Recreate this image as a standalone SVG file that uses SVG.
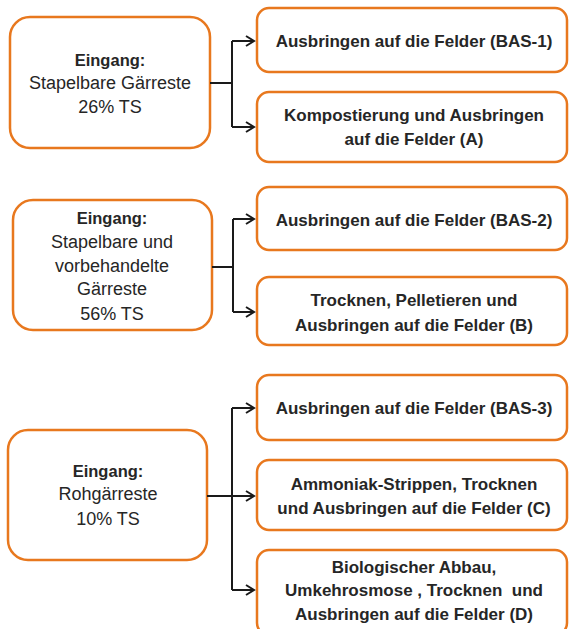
<svg xmlns="http://www.w3.org/2000/svg" width="569" height="629" viewBox="0 0 569 629">
  <defs>
    <style>
      .box { fill: #ffffff; stroke: #E8781E; stroke-width: 2.5; }
      .wire { fill: none; stroke: #1a1a1a; stroke-width: 2; }
      .t { font-family: "Liberation Sans", Arial, sans-serif; fill: #262626; text-anchor: middle; }
      .in { font-size: 18px; }
      .inb { font-size: 16.5px; font-weight: bold; }
      .out { font-size: 17px; font-weight: bold; }
    </style>
    <marker id="arrow" markerWidth="12" markerHeight="12" refX="10" refY="6" orient="auto" markerUnits="userSpaceOnUse">
      <path d="M2,1 L10,6 L2,11" fill="none" stroke="#1a1a1a" stroke-width="2"/>
    </marker>
  </defs>
  <rect width="569" height="629" fill="#ffffff"/>

  <!-- Inputs -->
  <g id="in1">
    <rect class="box" x="10" y="17" width="200" height="131" rx="20"/>
    <text class="t inb" x="110" y="66">Eingang:</text>
    <text class="t in" x="110" y="89">Stapelbare Gärreste</text>
    <text class="t in" x="110" y="113">26% TS</text>
  </g>
  <g id="in2">
    <rect class="box" x="13" y="200" width="199" height="130" rx="20"/>
    <text class="t inb" x="112" y="224">Eingang:</text>
    <text class="t in" x="112" y="248">Stapelbare und</text>
    <text class="t in" x="112" y="272">vorbehandelte</text>
    <text class="t in" x="112" y="295">Gärreste</text>
    <text class="t in" x="112" y="320">56% TS</text>
  </g>
  <g id="in3">
    <rect class="box" x="8" y="430" width="199" height="130" rx="20"/>
    <text class="t inb" x="108" y="477">Eingang:</text>
    <text class="t in" x="108" y="500">Rohgärreste</text>
    <text class="t in" x="108" y="525">10% TS</text>
  </g>

  <!-- Outcomes -->
  <g id="bas1">
    <rect class="box" x="257" y="8" width="310" height="64" rx="12"/>
    <text class="t out" x="414" y="47">Ausbringen auf die Felder (BAS-1)</text>
  </g>
  <g id="optA">
    <rect class="box" x="257" y="92" width="310" height="70" rx="12"/>
    <text class="t out" x="414" y="121">Kompostierung und Ausbringen</text>
    <text class="t out" x="414" y="145">auf die Felder (A)</text>
  </g>
  <g id="bas2">
    <rect class="box" x="257" y="187" width="310" height="63" rx="12"/>
    <text class="t out" x="414" y="226">Ausbringen auf die Felder (BAS-2)</text>
  </g>
  <g id="optB">
    <rect class="box" x="257" y="277" width="310" height="68" rx="12"/>
    <text class="t out" x="414" y="306">Trocknen, Pelletieren und</text>
    <text class="t out" x="414" y="331">Ausbringen auf die Felder (B)</text>
  </g>
  <g id="bas3">
    <rect class="box" x="257" y="375" width="310" height="65" rx="12"/>
    <text class="t out" x="414" y="414">Ausbringen auf die Felder (BAS-3)</text>
  </g>
  <g id="optC">
    <rect class="box" x="257" y="460" width="310" height="70" rx="12"/>
    <text class="t out" x="414" y="490">Ammoniak-Strippen, Trocknen</text>
    <text class="t out" x="414" y="514">und Ausbringen auf die Felder (C)</text>
  </g>
  <g id="optD">
    <rect class="box" x="257" y="550" width="310" height="85" rx="12"/>
    <text class="t out" x="414" y="573">Biologischer Abbau,</text>
    <text class="t out" x="414" y="596" xml:space="preserve">Umkehrosmose , Trocknen  und</text>
    <text class="t out" x="414" y="620">Ausbringen auf die Felder (D)</text>
  </g>

  <!-- Connectors -->
  <g id="connectors">
    <path class="wire" d="M210,83 H232"/>
    <path class="wire" d="M232,41 V127"/>
    <path class="wire" d="M232,41 H254" marker-end="url(#arrow)"/>
    <path class="wire" d="M232,127 H254" marker-end="url(#arrow)"/>

    <path class="wire" d="M212,267 H233"/>
    <path class="wire" d="M233,219 V312"/>
    <path class="wire" d="M233,219 H254" marker-end="url(#arrow)"/>
    <path class="wire" d="M233,312 H254" marker-end="url(#arrow)"/>

    <path class="wire" d="M232,408 V590"/>
    <path class="wire" d="M207,496 H254" marker-end="url(#arrow)"/>
    <path class="wire" d="M232,408 H254" marker-end="url(#arrow)"/>
    <path class="wire" d="M232,590 H254" marker-end="url(#arrow)"/>
  </g>
</svg>
